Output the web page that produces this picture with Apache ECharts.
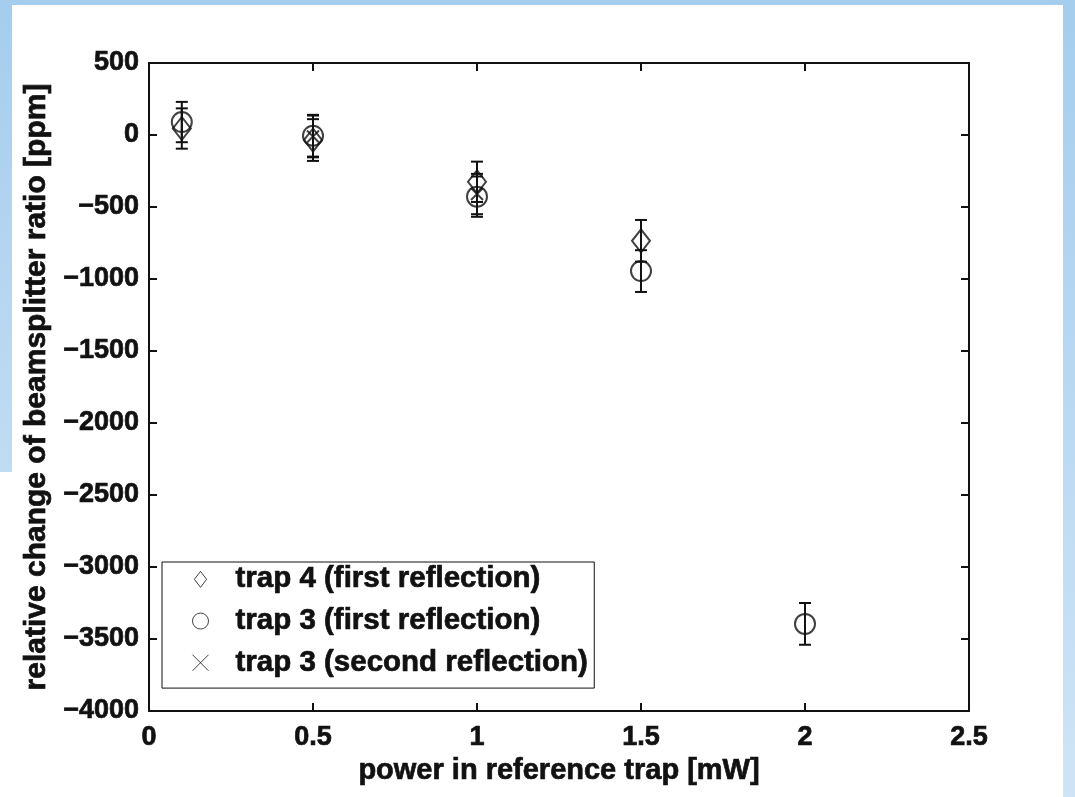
<!DOCTYPE html>
<html>
<head>
<meta charset="utf-8">
<script src="https://cdn.jsdelivr.net/npm/echarts@6/dist/echarts.min.js"></script>
<style>
  html, body { margin: 0; padding: 0; background: #fff; }
  #graph { width: 1075px; height: 797px; }
</style>
</head>
<body>
<div id="graph"></div>
<script>
var dom = document.getElementById("graph");
var myChart = echarts.init(dom);

// values (ppm), error = half length of the bar
var trap4X = [0.1, 0.5, 1.0, 1.5];
var trap4Y = [45, -35, -325, -735];
var trap4Err = [140, 145, 140, 145];

var trap3aX = [0.1, 0.5, 1.0, 1.5, 2.0];
var trap3aY = [90, -5, -428, -945, -3395];
var trap3aErr = [140, 145, 140, 145, 145];

var trap3bX = [0.5, 1.0];
var trap3bY = [-10, -410];
var trap3bErr = [145, 140];

var seriesNames = ['trap 4 (first reflection)', 'trap 3 (first reflection)', 'trap 3 (second reflection)'];

function pts(xs, ys) {
    return xs.map(function (x, i) { return [x, ys[i]]; });
}
function errPts(xs, ys, es) {
    return xs.map(function (x, i) { return [x, ys[i], es[i]]; });
}

// error bar with caps
function renderErr(params, api) {
    var x = api.value(0), y = api.value(1), e = api.value(2);
    var top = api.coord([x, y + e]);
    var bot = api.coord([x, y - e]);
    var hw = 6;
    var st = { stroke: '#111', lineWidth: 2 };
    return {
        type: 'group',
        children: [
            { type: 'line', shape: { x1: top[0], y1: top[1], x2: bot[0], y2: bot[1] }, style: st },
            { type: 'line', shape: { x1: top[0] - hw, y1: top[1], x2: top[0] + hw, y2: top[1] }, style: st },
            { type: 'line', shape: { x1: bot[0] - hw, y1: bot[1], x2: bot[0] + hw, y2: bot[1] }, style: st }
        ]
    };
}

var boldText = {
    fontFamily: 'Liberation Sans', fontWeight: 'bold', color: '#111',
    textBorderColor: '#111', textBorderWidth: 0.7
};
var markerStyle = { color: 'none', borderColor: '#111', borderWidth: 2 };
var axisStyle = { onZero: false, lineStyle: { color: '#111', width: 2 } };
var tickStyle = { inside: true, length: 8, lineStyle: { color: '#111', width: 2 } };

option = {
    backgroundColor: '#fff',
    animation: false,
    graphic: [
        // light blue frame around the slide
        { type: 'rect', z: -10, shape: { x: 0, y: 0, width: 1075, height: 5 },
          style: { fill: '#a4cdee' } },
        { type: 'rect', z: -10, shape: { x: 0, y: 0, width: 12, height: 472 },
          style: { fill: new echarts.graphic.LinearGradient(0, 0, 0, 1, [
              { offset: 0, color: '#a4cdee' }, { offset: 1, color: '#c0dcf3' }]) } },
        { type: 'rect', z: -10, shape: { x: 1063, y: 0, width: 12, height: 797 },
          style: { fill: new echarts.graphic.LinearGradient(0, 0, 0, 1, [
              { offset: 0, color: '#a4cdee' }, { offset: 1, color: '#cfe4f6' }]) } }
    ],
    grid: {
        left: 149,
        top: 63,
        width: 820,
        height: 648
    },
    legend: {
        data: [
            { name: seriesNames[0], icon: 'path://M6.5,0L13,8.5L6.5,17L0,8.5Z' },
            { name: seriesNames[1], icon: 'circle' },
            { name: seriesNames[2], icon: 'path://M0,0L10,10M10,0L0,10' }
        ],
        orient: 'vertical',
        left: 162,
        top: 562,
        padding: [2, 6, 10, 28],
        itemGap: 11,
        itemWidth: 16,
        itemHeight: 16,
        backgroundColor: '#fff',
        borderColor: '#111',
        borderWidth: 1,
        itemStyle: { color: 'none', borderColor: '#111', borderWidth: 1 },
        textStyle: Object.assign({}, boldText, {
            fontSize: 29.5,
            padding: [0, 0, 0, 22]
        })
    },
    xAxis: [{
        type: 'value',
        min: 0,
        max: 2.5,
        interval: 0.5,
        name: 'power in reference trap [mW]',
        nameLocation: 'middle',
        nameGap: 44,
        nameTextStyle: Object.assign({ fontSize: 29 }, boldText),
        axisLine: axisStyle,
        axisTick: tickStyle,
        axisLabel: Object.assign({ margin: 13, fontSize: 27 }, boldText, {
            formatter: function (v) { return String(v); }
        }),
        splitLine: { show: false }
    }, {
        type: 'value',
        position: 'top',
        min: 0,
        max: 2.5,
        interval: 0.5,
        axisLine: axisStyle,
        axisTick: tickStyle,
        axisLabel: { show: false },
        splitLine: { show: false }
    }],
    yAxis: [{
        type: 'value',
        min: -4000,
        max: 500,
        interval: 500,
        name: 'relative change of beamsplitter ratio [ppm]',
        nameLocation: 'middle',
        nameRotate: 90,
        nameGap: 97,
        nameTextStyle: Object.assign({ fontSize: 30 }, boldText),
        axisLine: axisStyle,
        axisTick: tickStyle,
        axisLabel: Object.assign({ margin: 10, fontSize: 27 }, boldText, {
            formatter: function (v) { return String(v).replace('-', '\u2212'); }
        }),
        splitLine: { show: false }
    }, {
        type: 'value',
        position: 'right',
        min: -4000,
        max: 500,
        interval: 500,
        axisLine: axisStyle,
        axisTick: tickStyle,
        axisLabel: { show: false },
        splitLine: { show: false }
    }],
    series: [{
        name: 'err4',
        type: 'custom',
        renderItem: renderErr,
        data: errPts(trap4X, trap4Y, trap4Err),
        z: 3
    }, {
        name: 'err3a',
        type: 'custom',
        renderItem: renderErr,
        data: errPts(trap3aX, trap3aY, trap3aErr),
        z: 3
    }, {
        name: 'err3b',
        type: 'custom',
        renderItem: renderErr,
        data: errPts(trap3bX, trap3bY, trap3bErr),
        z: 3
    }, {
        name: seriesNames[0],
        type: 'scatter',
        symbol: 'diamond',
        symbolSize: [18, 23],
        itemStyle: markerStyle,
        data: pts(trap4X, trap4Y),
        z: 4
    }, {
        name: seriesNames[1],
        type: 'scatter',
        symbol: 'circle',
        symbolSize: 20,
        itemStyle: markerStyle,
        data: pts(trap3aX, trap3aY),
        z: 4
    }, {
        name: seriesNames[2],
        type: 'scatter',
        symbol: 'path://M0,0L10,10M10,0L0,10',
        symbolSize: 12,
        itemStyle: markerStyle,
        data: pts(trap3bX, trap3bY),
        z: 4
    }]
};
if (option && typeof option === "object") {
    myChart.setOption(option, true);
}
</script>
</body>
</html>
